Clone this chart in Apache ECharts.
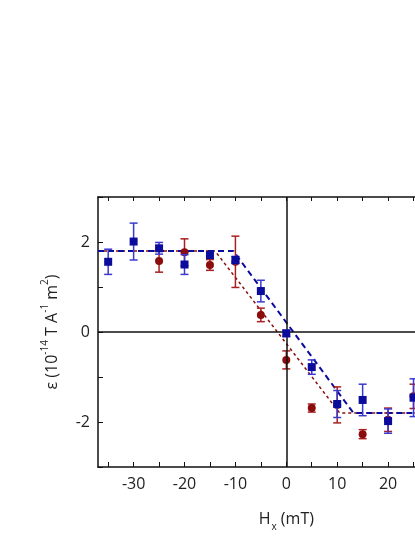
<!DOCTYPE html>
<html>
<head>
<meta charset="utf-8">
<script src="https://cdn.jsdelivr.net/npm/echarts@6/dist/echarts.min.js"></script>
<style>
  html, body { margin: 0; padding: 0; background: #fff; overflow: hidden; }
  /* plot runs off the right edge in the original, so the canvas is wider than the window */
  #chart { width: 480px; height: 537px; }
</style>
</head>
<body>
<div id="chart"></div>
<script>
// field values (mT)
const hxBlue = [-35, -30, -25, -20, -15, -10, -5, 0, 5, 10, 15, 20, 25]
const epsBlue = [1.56, 2.01, 1.86, 1.50, 1.71, 1.60, 0.91, -0.03, -0.78, -1.60, -1.51, -1.98, -1.46]
const errBlue = [0.28, 0.41, 0.13, 0.22, 0.07, 0.08, 0.24, 0.07, 0.16, 0.30, 0.35, 0.27, 0.42]

const hxRed = [-25, -20, -15, -10, -5, 0, 5, 10, 15, 20, 25]
const epsRed = [1.58, 1.77, 1.49, 1.56, 0.38, -0.62, -1.69, -1.62, -2.27, -1.95, -1.43]
const errRed = [0.25, 0.30, 0.12, 0.57, 0.15, 0.20, 0.09, 0.40, 0.10, 0.26, 0.27]

// piecewise model lines
const fitBlueX = [-37, -10.4, 13.2, 37]
const fitBlueY = [1.8, 1.8, -1.8, -1.8]
const fitRedX = [-37, -14, 10.5, 37]
const fitRedY = [1.8, 1.8, -1.8, -1.8]

const xTicks = [-35, -30, -25, -20, -15, -10, -5, 0, 5, 10, 15, 20, 25, 30, 35]
const xLabels = [-30, -20, -10, 0, 10, 20, 30]
const yLabels = [-2, 0, 2]

const BLUE = '#0b0b9c'
const BLUE_ERR = '#3a3ad0'
const RED = '#8a0c0c'
const RED_ERR = '#a82020'
const INK = '#222'
const FONT = 'Open Sans'

const zip = (xs, ys, es) => xs.map((x, i) => es ? [x, ys[i], es[i]] : [x, ys[i]])

function errorBars(color) {
  return function (params, api) {
    const x = api.value(0), y = api.value(1), e = api.value(2)
    const top = api.coord([x, y + e])
    const bot = api.coord([x, y - e])
    const w = 4
    const style = { stroke: color, lineWidth: 1.5 }
    return {
      type: 'group',
      children: [
        { type: 'line', shape: { x1: top[0], y1: top[1], x2: bot[0], y2: bot[1] }, style },
        { type: 'line', shape: { x1: top[0] - w, y1: top[1], x2: top[0] + w, y2: top[1] }, style },
        { type: 'line', shape: { x1: bot[0] - w, y1: bot[1], x2: bot[0] + w, y2: bot[1] }, style },
      ],
    }
  }
}

const chart = echarts.init(document.getElementById('chart'), null, { renderer: 'canvas' })

const axisLineStyle = { color: '#111', width: 1.5 }

chart.setOption({
  animation: false,
  grid: { left: 98, top: 197, width: 376.6, height: 275.5 },
  xAxis: [
    {
      type: 'value',
      min: -37,
      max: 37,
      splitLine: { show: false },
      axisLine: { onZero: false, lineStyle: axisLineStyle },
      axisTick: { inside: true, length: 5, lineStyle: { color: '#111', width: 1 }, customValues: xTicks },
      axisLabel: { customValues: xLabels, color: INK, fontSize: 16, fontFamily: FONT, margin: 9 },
      name: '{m|H}{s|x}{m| (mT)}',
      nameLocation: 'middle',
      nameGap: 40,
      nameTextStyle: {
        rich: {
          m: { fontSize: 16, fontFamily: FONT, color: INK, lineHeight: 20, verticalAlign: 'bottom' },
          s: { fontSize: 10, fontFamily: FONT, color: INK, lineHeight: 14, verticalAlign: 'bottom', padding: [0, 0, -5, 1] },
        },
      },
    },
    {
      type: 'value',
      position: 'top',
      min: -37,
      max: 37,
      splitLine: { show: false },
      axisLine: { onZero: false, lineStyle: axisLineStyle },
      axisTick: { inside: true, length: 4, lineStyle: { color: '#111', width: 1 }, customValues: xTicks },
      axisLabel: { show: false },
    },
  ],
  yAxis: {
    type: 'value',
    min: -3,
    max: 3,
    interval: 1,
    splitLine: { show: false },
    axisLine: { onZero: false, lineStyle: axisLineStyle },
    axisTick: { inside: true, length: 5, lineStyle: { color: '#111', width: 1 } },
    axisLabel: {
      customValues: yLabels,
      color: INK,
      fontSize: 16,
      fontFamily: FONT,
      margin: 8,
    },
    name: '{m|ε (10}{s|-14}{m| T A}{s|-1}{m| m}{s|2}{m|)}',
    nameLocation: 'middle',
    nameRotate: 90,
    nameGap: 38,
    nameTextStyle: {
      rich: {
        m: { fontSize: 16, fontFamily: FONT, color: INK, lineHeight: 20, verticalAlign: 'bottom' },
        s: { fontSize: 10, fontFamily: FONT, color: INK, lineHeight: 20, verticalAlign: 'top' },
      },
    },
  },
  series: [
    {
      type: 'line',
      data: [],
      silent: true,
      markLine: {
        silent: true,
        symbol: 'none',
        label: { show: false },
        lineStyle: { color: '#111', width: 1.5, type: 'solid' },
        data: [{ xAxis: 0 }, { yAxis: 0 }],
      },
    },
    {
      name: 'fit red',
      type: 'line',
      data: zip(fitRedX, fitRedY),
      symbol: 'none',
      lineStyle: { color: RED, width: 1.5, type: [3, 3] },
      z: 2,
    },
    {
      name: 'fit blue',
      type: 'line',
      data: zip(fitBlueX, fitBlueY),
      symbol: 'none',
      lineStyle: { color: BLUE, width: 2, type: [6, 4] },
      z: 2,
    },
    {
      name: 'red err',
      type: 'custom',
      renderItem: errorBars(RED_ERR),
      data: zip(hxRed, epsRed, errRed),
      z: 3,
    },
    {
      name: 'red',
      type: 'scatter',
      data: zip(hxRed, epsRed),
      symbol: 'circle',
      symbolSize: 8,
      itemStyle: { color: RED, opacity: 1 },
      z: 4,
    },
    {
      name: 'blue err',
      type: 'custom',
      renderItem: errorBars(BLUE_ERR),
      data: zip(hxBlue, epsBlue, errBlue),
      z: 5,
    },
    {
      name: 'blue',
      type: 'scatter',
      data: zip(hxBlue, epsBlue),
      symbol: 'rect',
      symbolSize: 8,
      itemStyle: { color: BLUE, opacity: 1 },
      z: 6,
    },
  ],
})
</script>
</body>
</html>
